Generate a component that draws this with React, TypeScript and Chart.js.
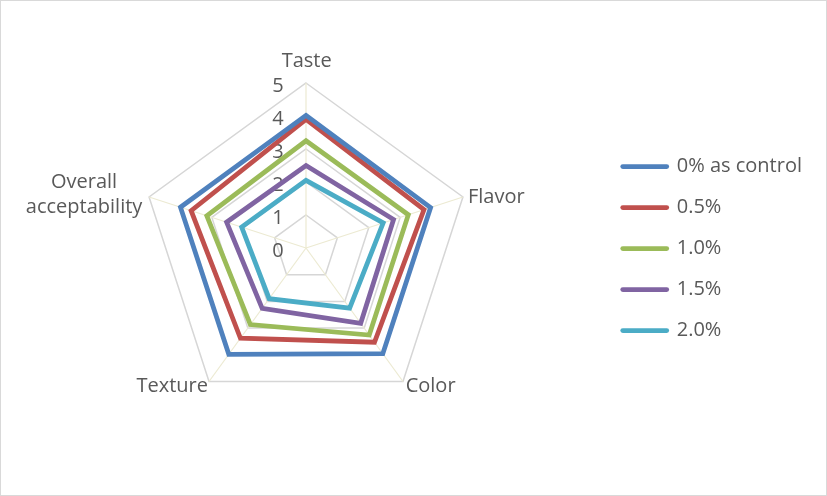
import React, { useEffect, useRef } from "react";
import { Chart, registerables } from "chart.js";

Chart.register(...registerables);

const categories = ["Taste", "Flavor", "Color", "Texture", "Overall acceptability"];
const seriesNames = ["0% as control", "0.5%", "1.0%", "1.5%", "2.0%"];
const control = [4.02, 3.97, 3.96, 3.98, 4.0];
const p05 = [3.9, 3.76, 3.53, 3.38, 3.66];
const p10 = [3.25, 3.26, 3.26, 2.87, 3.16];
const p15 = [2.5, 2.79, 2.82, 2.26, 2.53];
const p20 = [2.05, 2.46, 2.25, 1.9, 2.05];
const tickValues = [0, 1, 2, 3, 4, 5];
const seriesColors = ["#4F81BD", "#C0504D", "#9BBB59", "#8064A2", "#4BACC6"];

const TEXT_COLOR = "#595959";
const FONT = "'Open Sans', 'Noto Sans', sans-serif";

// label placement relative to each outer vertex: [dx, dy(baseline), align]
const LABEL_PLACEMENT: Array<[number, number, CanvasTextAlign]> = [
  [0.7, -16, "center"],
  [5, 5.7, "left"],
  [2.7, 11, "left"],
  [-1, 11, "right"],
  [-65, -9, "center"],
];

const labelsPlugin = {
  id: "excelLabels",
  beforeDatasetsDraw(chart: any) {
    const s = chart.scales.r;
    const ctx = chart.ctx;
    ctx.save();
    ctx.fillStyle = TEXT_COLOR;
    ctx.font = `20px ${FONT}`;
    ctx.textAlign = "center";
    ctx.textBaseline = "alphabetic";
    tickValues.forEach((v) => {
      const d = s.getDistanceFromCenterForValue(v);
      ctx.fillText(String(v), s.xCenter - 28, s.yCenter - d + 8.7);
    });
    ctx.restore();
  },
  afterDraw(chart: any) {
    const s = chart.scales.r;
    const ctx = chart.ctx;
    ctx.save();
    ctx.fillStyle = TEXT_COLOR;
    ctx.font = `20px ${FONT}`;
    ctx.textBaseline = "alphabetic";
    categories.forEach((label, i) => {
      const p = s.getPointPosition(i, s.drawingArea);
      const [dx, dy, align] = LABEL_PLACEMENT[i];
      ctx.textAlign = align;
      const words = i === 4 ? ["Overall", "acceptability"] : [label];
      words.forEach((w, k) => {
        ctx.fillText(w, p.x + dx, p.y + dy + k * 25);
      });
    });
    ctx.restore();
  },
};

export default function App() {
  const ref = useRef<HTMLCanvasElement | null>(null);
  useEffect(() => {
    if (!ref.current) return;
    Chart.defaults.font.family = FONT;
    const data = [control, p05, p10, p15, p20];
    const chart = new Chart(ref.current, {
      type: "radar",
      data: {
        labels: categories,
        datasets: data.map((vals, i) => ({
          label: seriesNames[i],
          data: vals,
          borderColor: seriesColors[i],
          backgroundColor: seriesColors[i],
          borderWidth: 4.75,
          borderJoinStyle: "miter" as const,
          fill: false,
          pointRadius: 0,
          pointHoverRadius: 0,
        })),
      },
      options: {
        animation: false,
        responsive: false,
        layout: { padding: { left: 11, right: 14, top: 82, bottom: 81 } },
        scales: {
          r: {
            min: 0,
            max: 5,
            ticks: { display: false, stepSize: 1 },
            pointLabels: { display: false },
            grid: { color: "#d6d6d6", lineWidth: 1.5 },
            angleLines: { color: "#ecead2", lineWidth: 1.2 },
          },
        },
        plugins: {
          tooltip: { enabled: false },
          legend: {
            position: "right",
            labels: {
              usePointStyle: true,
              pointStyle: "line",
              pointStyleWidth: 44,
              padding: 21,
              color: TEXT_COLOR,
              font: { size: 20, family: FONT },
              generateLabels: (c: any) =>
                c.data.datasets.map((ds: any, i: number) => ({
                  text: ds.label,
                  fillStyle: ds.borderColor,
                  strokeStyle: ds.borderColor,
                  lineWidth: 4.75,
                  lineCap: "round",
                  pointStyle: "line",
                  hidden: false,
                  datasetIndex: i,
                  fontColor: TEXT_COLOR,
                })),
            },
          },
        },
      },
      plugins: [labelsPlugin],
    });
    return () => chart.destroy();
  }, []);
  return (
    <div
      style={{
        position: "fixed",
        left: 0,
        top: 0,
        width: 827,
        height: 496,
        boxSizing: "border-box",
        border: "1px solid #d9d9d9",
        background: "#fff",
      }}
    >
      <canvas ref={ref} width={825} height={494} style={{ display: "block" }} />
    </div>
  );
}
